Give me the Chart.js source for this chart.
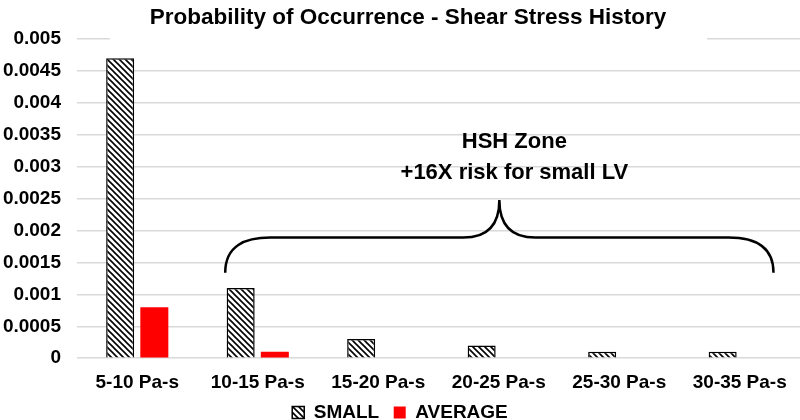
<!DOCTYPE html>
<html>
<head>
<meta charset="utf-8">
<script src="https://cdn.jsdelivr.net/npm/chart.js@4.4.0/dist/chart.umd.min.js"></script>
<style>
  html, body { margin: 0; padding: 0; background: #fff; }
  #wrap { width: 800px; height: 420px; }
</style>
</head>
<body>
<div id="wrap"><canvas id="myChart"></canvas></div>
<script>
const categories = ["5-10 Pa-s", "10-15 Pa-s", "15-20 Pa-s", "20-25 Pa-s", "25-30 Pa-s", "30-35 Pa-s"];
const smallValues = [0.0047, 0.0011, 0.0003, 0.0002, 0.0001, 0.0001];
const averageValues = [0.0008, 0.0001, 0, 0, 0, 0];
const yTicks = [0, 0.0005, 0.001, 0.0015, 0.002, 0.0025, 0.003, 0.0035, 0.004, 0.0045, 0.005];

const FONT = "'Liberation Sans', Arial, sans-serif";

// diagonal hatch fill for SMALL
function makeHatch() {
  const c = document.createElement("canvas");
  c.width = 6;
  c.height = 6;
  const g = c.getContext("2d");
  g.fillStyle = "#fff";
  g.fillRect(0, 0, 6, 6);
  g.strokeStyle = "#000";
  g.lineWidth = 1.6;
  g.beginPath();
  g.moveTo(-1, -1); g.lineTo(7, 7);
  g.moveTo(-4, 2); g.lineTo(4, 10);
  g.moveTo(2, -4); g.lineTo(10, 4);
  g.stroke();
  return g.createPattern(c, "repeat");
}
const hatch = makeHatch();

// brace + text annotation
const bracePlugin = {
  id: "brace",
  afterLayout(chart) {
    // original title sits a bit right of centre
    if (chart.titleBlock) chart.titleBlock.left = 16;
  },
  beforeDatasetsDraw(chart) {
    // title box in the original hides part of the top gridline
    const { ctx, scales } = chart;
    const yTop = scales.y.getPixelForValue(0.005);
    ctx.save();
    ctx.fillStyle = "#fff";
    ctx.fillRect(110, yTop - 2, 597, 4);
    ctx.restore();
  },
  afterDatasetsDraw(chart) {
    const { ctx, scales } = chart;
    const x = scales.x, y = scales.y;
    const step = x.getPixelForValue(1) - x.getPixelForValue(0);
    const x0 = x.getPixelForValue(1) - step * 0.27;
    const x1 = x.getPixelForValue(5) + step * 0.28;
    const xm = (x0 + x1) / 2;
    const yEnd = y.getPixelForValue(0.00134);
    const yBar = y.getPixelForValue(0.00189);
    const yTip = y.getPixelForValue(0.00248);
    const r = 36;
    ctx.save();
    ctx.strokeStyle = "#000";
    ctx.lineWidth = 2.5;
    ctx.beginPath();
    ctx.moveTo(x0, yEnd);
    ctx.bezierCurveTo(x0, yBar + 8, x0 + 20, yBar, x0 + 45, yBar);
    ctx.lineTo(xm - r, yBar);
    ctx.bezierCurveTo(xm - 12, yBar, xm, yBar - 12, xm, yTip);
    ctx.bezierCurveTo(xm, yBar - 12, xm + 12, yBar, xm + r, yBar);
    ctx.lineTo(x1 - 45, yBar);
    ctx.bezierCurveTo(x1 - 20, yBar, x1, yBar + 8, x1, yEnd);
    ctx.stroke();
    ctx.fillStyle = "#000";
    ctx.font = "bold 22px " + FONT;
    ctx.textAlign = "center";
    ctx.textBaseline = "middle";
    ctx.fillText("HSH Zone", xm + 15, y.getPixelForValue(0.00339));
    ctx.fillText("+16X risk for small LV", xm + 15, y.getPixelForValue(0.0029));
    ctx.restore();
  }
};

const ctx = document.getElementById("myChart");
const myChart = new Chart(ctx, {
  type: "bar",
  data: {
    labels: categories,
    datasets: [
      {
        label: "SMALL",
        data: smallValues,
        backgroundColor: hatch,
        borderColor: "#000",
        borderWidth: 1.5,
      },
      {
        label: "AVERAGE",
        data: averageValues,
        backgroundColor: "#ff0000",
        borderWidth: 0,
      },
    ],
  },
  options: {
    responsive: true,
    maintainAspectRatio: false,
    animation: false,
    categoryPercentage: 0.567,
    barPercentage: 0.82,
    layout: { padding: { left: 0, right: 0, top: 0, bottom: -12 } },
    plugins: {
      title: {
        display: true,
        text: "Probability of Occurrence - Shear Stress History",
        color: "#000",
        font: { family: FONT, size: 22.5, weight: "bold" },
        padding: { top: 4, bottom: 8 },
      },
      legend: {
        position: "bottom",
        labels: {
          color: "#000",
          font: { family: FONT, size: 19, weight: "bold" },
          boxWidth: 12,
          boxHeight: 12,
          padding: 4,
          generateLabels: (chart) => {
            const items = Chart.defaults.plugins.legend.labels.generateLabels(chart);
            items[0].text = items[0].text + "  ";
            return items;
          },
        },
      },
      tooltip: { enabled: false },
    },
    scales: {
      x: {
        grid: { display: false },
        border: { display: false },
        afterFit: (axis) => {
          axis.paddingLeft = 0;
          axis.paddingRight = 0;
        },
        ticks: {
          color: "#000",
          font: { family: FONT, size: 19, weight: "bold" },
          padding: 5,
          maxRotation: 0,
        },
      },
      y: {
        min: 0,
        max: 0.005,
        afterBuildTicks: (axis) => {
          axis.ticks = yTicks.map((v) => ({ value: v }));
        },
        afterFit: (axis) => {
          axis.width = 77;
        },
        grid: { color: "#d9d9d9", lineWidth: 1.5, drawTicks: false },
        border: { display: false },
        ticks: {
          color: "#000",
          font: { family: FONT, size: 19, weight: "bold" },
          padding: 16,
          callback: (v) => String(+Number(v).toFixed(4)),
        },
      },
    },
  },
  plugins: [bracePlugin],
});
</script>
</body>
</html>
